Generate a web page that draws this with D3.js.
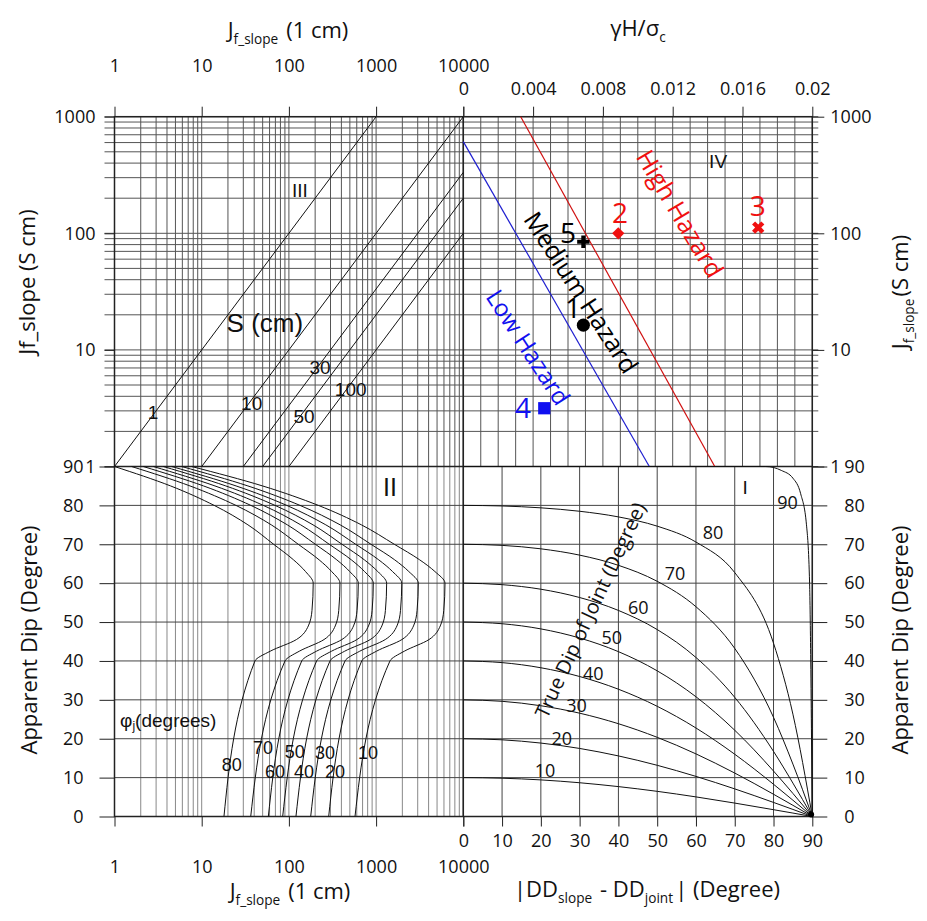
<!DOCTYPE html>
<html><head><meta charset="utf-8">
<script src="https://cdn.jsdelivr.net/npm/d3@7"></script>
<style>body{margin:0;background:#fff}</style>
</head><body><svg id="c" width="927" height="921"></svg>
<script>
// ---------------- DATA ----------------
const jLogTicks = [1, 10, 100, 1000, 10000];
const gammaTicks = [0, 0.004, 0.008, 0.012, 0.016, 0.02];
const jsTicks = [1, 10, 100, 1000];
const dipTicks = [0, 10, 20, 30, 40, 50, 60, 70, 80, 90];
const ddTicks = [0, 10, 20, 30, 40, 50, 60, 70, 80, 90];

// Quadrant III : spacing lines S (cm)
const sValues = [1, 10, 30, 50, 100];
const sStartJ1 = [1, 10, 30, 50, 100];
const sEndJ1 = [1000, 10000, 10000, 10000, 10000];
const sEndJS = [1000, 1000, 333, 200, 100];

// Quadrant IV : hazard boundaries
const lowHazardGamma = [0, 0.01066];
const lowHazardJS = [611, 1];
const highHazardGamma = [0.00329, 0.01441];
const highHazardJS = [1000, 1];

// Quadrant IV : case points
const caseIds = ["1", "2", "3", "4", "5"];
const caseGamma = [0.00688, 0.00888, 0.0169, 0.00464, 0.00688];
const caseJS = [16.3, 100, 112, 3.16, 84.7];

// Quadrant II : phi_j curves (J_f_slope(1 cm) vs apparent dip)
const phiValues = [80, 70, 60, 50, 40, 30, 20, 10];
const phiDips = [0, 40, 42.5, 45.5, 49, 53, 60, 63, 66, 70, 75, 80, 85, 90];
const phi80 = [18.0, 40.8, 61.0, 122, 167, 184, 190, 155, 113, 66.8, 33.9, 13.9, 4.4, 1.0];
const phi70 = [36.5, 90.2, 131.5, 253, 340, 373, 385, 309, 222, 128, 62.8, 24.7, 7.35, 1.57];
const phi60 = [58.1, 140.3, 207, 405, 551, 605, 625, 498, 354, 201, 95.9, 36.6, 10.5, 2.14];
const phi50 = [84.9, 208, 308, 603, 818, 900, 929, 736, 520, 290, 136.5, 50.9, 14.2, 2.79];
const phi40 = [120.5, 296, 436, 857, 1164, 1279, 1321, 1045, 733, 406, 189, 69.3, 18.9, 3.63];
const phi30 = [177.8, 440, 649, 1274, 1734, 1905, 1968, 1542, 1072, 583, 265, 94.4, 24.8, 4.53];
const phi20 = [286, 684, 1009, 1977, 2685, 2951, 3048, 2371, 1633, 873, 387, 134, 33.9, 5.89];
const phi10 = [573, 1442, 2104, 4046, 5445, 5970, 6166, 4721, 3161, 1618, 678, 217.6, 49.9, 7.67];

// Quadrant I : true dip curves (|DD_slope-DD_joint| vs apparent dip)
const trueDips = [10, 20, 30, 40, 50, 60, 70, 80];
const ddValues = [0, 10, 20, 30, 40, 50, 60, 70, 80, 85, 90];
const app10 = [10, 9.85, 9.41, 8.68, 7.69, 6.47, 5.04, 3.45, 1.75, 0.88, 0];
const app20 = [20, 19.72, 18.88, 17.50, 15.58, 13.17, 10.31, 7.10, 3.62, 1.82, 0];
const app30 = [30, 29.62, 28.48, 26.57, 23.86, 20.36, 16.10, 11.17, 5.72, 2.88, 0];
const app40 = [40, 39.57, 38.25, 36.00, 32.73, 28.34, 22.76, 16.01, 8.29, 4.19, 0];
const app50 = [50, 49.57, 48.24, 45.90, 42.39, 37.46, 30.79, 22.18, 11.69, 5.93, 0];
const app60 = [60, 59.62, 58.44, 56.31, 52.99, 48.07, 40.89, 30.64, 16.74, 8.59, 0];
const app70 = [70, 69.72, 68.83, 67.21, 64.59, 60.48, 53.94, 43.22, 25.50, 13.47, 0];
const app80 = [80, 79.85, 79.37, 78.49, 77.04, 74.66, 70.57, 62.72, 44.56, 26.31, 0];
const dd90 = [0, 78, 82, 85, 87, 88.5, 89.3, 89.6, 89.8, 90];
const app90 = [90, 90, 89, 87, 83, 75, 60, 40, 20, 0];

// ---------------- LAYOUT ----------------
const X0 = 114.5, XM = 463.3, X1 = 812.3, Y0 = 116.7, YM = 466.5, Y1 = 816.5;
const AX = "Open Sans", IN = "Liberation Sans";

const svg = d3.select("#c");
const xJ = d3.scaleLog().domain([1, 10000]).range([X0, XM]);
const xG = d3.scaleLinear().domain([0, 0.02]).range([XM, X1]);
const yJS = d3.scaleLog().domain([1, 1000]).range([YM, Y0]);
const yDip = d3.scaleLinear().domain([0, 90]).range([Y1, YM]);
const xDD = d3.scaleLinear().domain([0, 90]).range([XM, X1]);

function logMinor(lo, hi) {
  const v = [];
  for (let d = lo; d < hi; d *= 10) for (let k = 1; k < 10; k++) v.push(d * k);
  v.push(hi);
  return v;
}

const grid = svg.append("g").attr("fill", "none").attr("stroke-width", 1);
logMinor(1, 10000).forEach(v => grid.append("line").attr("x1", xJ(v)).attr("x2", xJ(v)).attr("y1", Y0).attr("y2", YM).attr("stroke", "#555"));
logMinor(1, 1000).forEach(v => grid.append("line").attr("x1", X0 - 10).attr("x2", X1 + 6).attr("y1", yJS(v)).attr("y2", yJS(v)).attr("stroke", "#555"));
d3.range(0, 21).forEach(i => { const v = i * 0.001; grid.append("line").attr("x1", xG(v)).attr("x2", xG(v)).attr("y1", Y0).attr("y2", YM).attr("stroke", "#555"); });
logMinor(1, 10000).forEach(v => grid.append("line").attr("x1", xJ(v)).attr("x2", xJ(v)).attr("y1", YM).attr("y2", Y1).attr("stroke", "#888"));
dipTicks.forEach(v => grid.append("line").attr("x1", X0).attr("x2", X1).attr("y1", yDip(v)).attr("y2", yDip(v)).attr("stroke", "#444"));
ddTicks.forEach(v => grid.append("line").attr("x1", xDD(v)).attr("x2", xDD(v)).attr("y1", YM).attr("y2", Y1).attr("stroke", "#444"));

const fr = svg.append("g").attr("stroke", "#222").attr("stroke-width", 1.5).attr("fill", "none");
fr.append("rect").attr("x", X0).attr("y", Y0).attr("width", X1 - X0).attr("height", Y1 - Y0);
fr.append("line").attr("x1", XM).attr("x2", XM).attr("y1", Y0).attr("y2", Y1);
fr.append("line").attr("x1", X0).attr("x2", X1).attr("y1", YM).attr("y2", YM);

// ---------------- AXES ----------------
function styleAxis(g, size) {
  g.select(".domain").remove();
  g.selectAll("line").attr("stroke", "#222");
  g.selectAll("text").attr("font-family", AX).attr("font-size", size).attr("fill", "#111");
}
const fmtJ = d => String(d);
svg.append("g").attr("transform", `translate(0,${Y0})`)
  .call(d3.axisTop(xJ).tickValues(jLogTicks).tickFormat(fmtJ).tickSize(10).tickPadding(35))
  .call(g => styleAxis(g, 18));
svg.append("g").attr("transform", `translate(0,${Y0})`)
  .call(d3.axisTop(xG).tickValues(gammaTicks).tickFormat(d => d === 0 ? "0" : String(+d.toFixed(3))).tickSize(10).tickPadding(12))
  .call(g => styleAxis(g, 18));
svg.append("g").attr("transform", `translate(${X0},0)`)
  .call(d3.axisLeft(yJS).tickValues(jsTicks).tickFormat(fmtJ).tickSize(10).tickPadding(9))
  .call(g => styleAxis(g, 18));
svg.append("g").attr("transform", `translate(${X0},0)`)
  .call(d3.axisLeft(yDip).tickValues(dipTicks).tickSize(15).tickPadding(16))
  .call(g => styleAxis(g, 18));
svg.append("g").attr("transform", `translate(${X1},0)`)
  .call(d3.axisRight(yJS).tickValues(jsTicks).tickFormat(fmtJ).tickSize(12).tickPadding(6))
  .call(g => styleAxis(g, 18));
svg.append("g").attr("transform", `translate(${X1},0)`)
  .call(d3.axisRight(yDip).tickValues(dipTicks).tickSize(15).tickPadding(17))
  .call(g => styleAxis(g, 18));
svg.append("g").attr("transform", `translate(0,${Y1})`)
  .call(d3.axisBottom(xDD).tickValues(ddTicks).tickSize(10).tickPadding(8))
  .call(g => styleAxis(g, 18));
svg.append("g").attr("transform", `translate(0,${Y1})`)
  .call(d3.axisBottom(xJ).tickValues(jLogTicks).tickFormat(fmtJ).tickSize(10).tickPadding(34))
  .call(g => styleAxis(g, 18));

// ---------------- TITLES ----------------
function title(x, y, parts, rot, size) {
  const t = svg.append("text").attr("font-family", AX).attr("font-size", size || 22).attr("fill", "#111")
    .attr("text-anchor", "middle")
    .attr("transform", `translate(${x},${y})` + (rot ? ` rotate(${rot})` : ""));
  parts.forEach(p => {
    if (p.sub) {
      t.append("tspan").attr("font-size", (size || 22) * 0.62).attr("dy", 6).text(p.sub);
      t.append("tspan").attr("dy", -6).text("\u200A");
    } else t.append("tspan").text(p.t);
  });
  return t;
}
title(288, 38, [{t: "J"}, {sub: "f_slope"}, {t: " (1 cm)"}]);
title(639, 36, [{t: "\u03B3H/\u03C3"}, {sub: "c"}]);
title(290, 899, [{t: "J"}, {sub: "f_slope"}, {t: " (1 cm)"}]);
title(647, 897, [{t: "|DD"}, {sub: "slope"}, {t: " - DD"}, {sub: "joint"}, {t: "| (Degree)"}]);
title(35, 282, [{t: "Jf_slope (S cm)"}], -90);
title(37, 640, [{t: "Apparent Dip (Degree)"}], -90);
title(908, 292, [{t: "J"}, {sub: "f_slope"}, {t: "(S cm)"}], -90);
title(908, 640, [{t: "Apparent Dip (Degree)"}], -90);

// ---------------- QUADRANT III ----------------
const q3 = svg.append("g").attr("stroke", "#111").attr("stroke-width", 1).attr("fill", "none");
sValues.forEach((s, i) => {
  q3.append("line").attr("x1", xJ(sStartJ1[i])).attr("y1", yJS(1))
    .attr("x2", xJ(sEndJ1[i])).attr("y2", yJS(sEndJS[i]));
});

// ---------------- QUADRANT IV ----------------
svg.append("line").attr("x1", xG(lowHazardGamma[0])).attr("y1", yJS(lowHazardJS[0]))
  .attr("x2", xG(lowHazardGamma[1])).attr("y2", yJS(lowHazardJS[1])).attr("stroke", "#1f1fd0").attr("stroke-width", 1.2);
svg.append("line").attr("x1", xG(highHazardGamma[0])).attr("y1", yJS(highHazardJS[0]))
  .attr("x2", xG(highHazardGamma[1])).attr("y2", yJS(highHazardJS[1])).attr("stroke", "#d01010").attr("stroke-width", 1.2);

const markerStyle = {
  "1": {type: d3.symbolCircle, size: 135, rot: 0, color: "#000"},
  "2": {type: d3.symbolSquare, size: 75, rot: 45, color: "#f01010"},
  "3": {type: d3.symbolCross, size: 95, rot: 45, color: "#f01010"},
  "4": {type: d3.symbolSquare, size: 150, rot: 0, color: "#1010f0"},
  "5": {type: d3.symbolCross, size: 85, rot: 0, color: "#000"}
};
caseIds.forEach((id, i) => {
  const m = markerStyle[id];
  svg.append("path").attr("d", d3.symbol().type(m.type).size(m.size)())
    .attr("transform", `translate(${xG(caseGamma[i])},${yJS(caseJS[i])}) rotate(${m.rot})`)
    .attr("fill", m.color);
});

// ---------------- QUADRANT II ----------------
const phiSeries = [phi80, phi70, phi60, phi50, phi40, phi30, phi20, phi10];
const lineII = d3.line().x(d => xJ(d[0])).y(d => yDip(d[1])).curve(d3.curveMonotoneY);
phiSeries.forEach(arr => {
  const pts = arr.map((j, k) => [j, phiDips[k]]).reverse();
  svg.append("path").attr("d", lineII(pts)).attr("fill", "none").attr("stroke", "#111").attr("stroke-width", 1);
});

// ---------------- QUADRANT I ----------------
const appSeries = [app10, app20, app30, app40, app50, app60, app70, app80];
const lineI = d3.line().x(d => xDD(d[0])).y(d => yDip(d[1])).curve(d3.curveMonotoneX);
appSeries.forEach(arr => {
  svg.append("path").attr("d", lineI(arr.map((a, k) => [ddValues[k], a]))).attr("fill", "none").attr("stroke", "#111").attr("stroke-width", 1);
});
svg.append("path").attr("d", lineI(app90.map((a, k) => [dd90[k], a]))).attr("fill", "none").attr("stroke", "#111").attr("stroke-width", 1);
svg.append("circle").attr("cx", xDD(89.7)).attr("cy", yDip(0.5)).attr("r", 3).attr("fill", "#000");

// ---------------- ANNOTATIONS ----------------
function lab(x, y, txt, opt) {
  opt = opt || {};
  const t = svg.append("text").attr("font-family", opt.font || IN).attr("font-size", opt.size || 18)
    .attr("fill", opt.color || "#111").attr("text-anchor", opt.anchor || "middle").attr("dominant-baseline", "central")
    .attr("transform", `translate(${x},${y})` + (opt.rot ? ` rotate(${opt.rot})` : ""));
  t.text(txt);
  return t;
}
lab(xJ(134), yJS(235), "III", {size: 19});
lab(xJ(53), yJS(17), "S (cm)", {size: 26});
const sLabJ = [2.76, 37.4, 227, 149, 511];
const sLabJS = [2.93, 3.5, 7.13, 2.66, 4.53];
const sLabTxt = ["1", "10", "30", "50", "100"];
sLabTxt.forEach((t, i) => lab(xJ(sLabJ[i]), yJS(sLabJS[i]), t, {size: 19}));

lab(xG(0.0146), yJS(409), "IV", {size: 19});
lab(xG(0.01247), yJS(149), "High Hazard", {size: 25, color: "#f01010", rot: 59, font: AX});
lab(xG(0.0068), yJS(31.4), "Medium Hazard", {size: 25, color: "#000", rot: 57, font: AX});
lab(xG(0.00376), yJS(10.6), "Low Hazard", {size: 24, color: "#1010f0", rot: 57, font: AX});
const caseLabGamma = [0.00629, 0.00898, 0.01688, 0.00342, 0.0060];
const caseLabJS = [23.3, 152, 175, 3.24, 102.6];
const caseLabColor = ["#000", "#f01010", "#f01010", "#1010f0", "#000"];
caseIds.forEach((id, i) => lab(xG(caseLabGamma[i]), yJS(caseLabJS[i]), id, {size: 28, color: caseLabColor[i], font: AX}));

lab(xJ(1442), yDip(84.7), "II", {size: 25});
const phiLabJ = [22.1, 50.5, 69.3, 117, 149, 259, 338, 807];
const phiLabDip = [13.2, 17.6, 11.4, 16.6, 11.4, 16.3, 11.4, 16.3];
phiValues.forEach((p, i) => lab(xJ(phiLabJ[i]), yDip(phiLabDip[i]), String(p), {size: 18}));
const phiT = svg.append("text").attr("font-family", IN).attr("font-size", 19).attr("fill", "#111")
  .attr("x", xJ(1.16)).attr("y", yDip(24.9)).attr("dominant-baseline", "central");
phiT.append("tspan").text("\u03C6");
phiT.append("tspan").attr("font-size", 12).attr("dy", 6).text("j");
phiT.append("tspan").attr("dy", -6).text("(degrees)");

const tdLabDD = [21.1, 25.4, 29.2, 33.5, 38.3, 45.1, 54.6, 64.4, 83.6];
const tdLabDip = [12, 20.2, 28.7, 36.9, 46.2, 53.9, 62.6, 73.2, 80.9];
const tdLabTxt = ["10", "20", "30", "40", "50", "60", "70", "80", "90"];
tdLabTxt.forEach((t, i) => lab(xDD(tdLabDD[i]), yDip(tdLabDip[i]), t, {size: 18, font: AX}));
lab(xDD(72.7), yDip(84.5), "I", {size: 19});
lab(xDD(32.7), yDip(53.1), "True Dip of Joint (Degree)", {size: 20, rot: -65, font: AX});
</script></body></html>
